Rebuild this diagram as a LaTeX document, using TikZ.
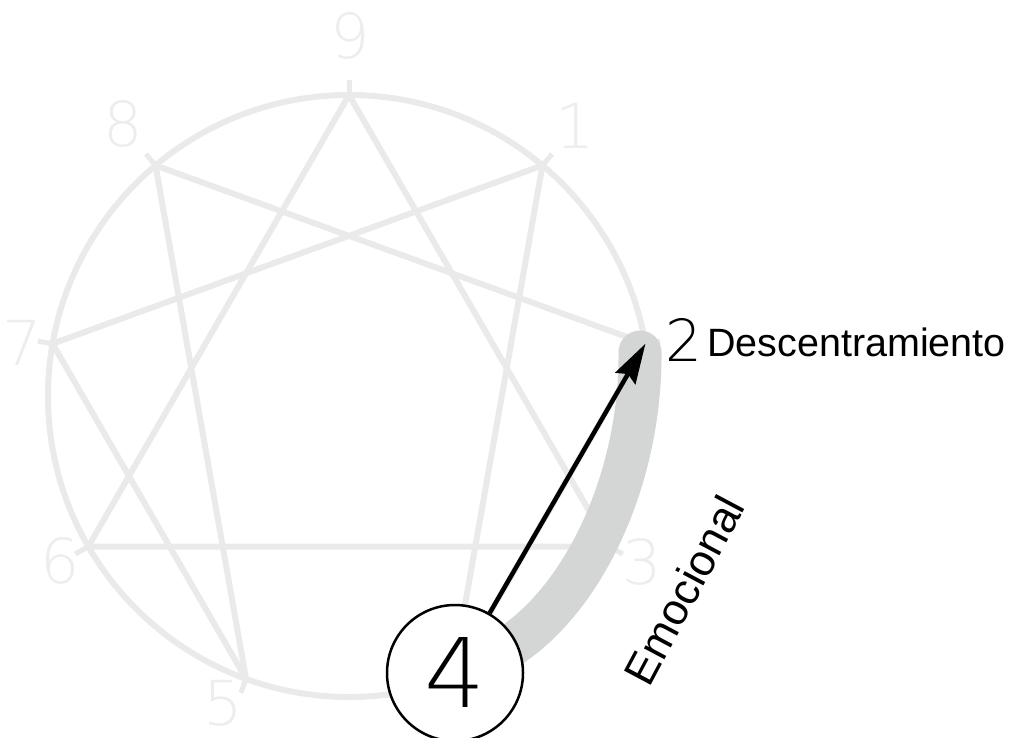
\documentclass[tikz,border=0pt]{standalone}
\usepackage{fontspec}
\usetikzlibrary{arrows.meta}
\setmainfont{Liberation Sans}
\newfontfamily\thindigits{DejaVu Sans ExtraLight}
\definecolor{ennea}{HTML}{EAEAEA}
\definecolor{enneanum}{HTML}{EDEDED}
\definecolor{bandgray}{HTML}{D4D6D6}

\begin{document}
\begin{tikzpicture}[x=1pt, y=-1pt,
        ln/.style={draw=ennea, line width=6pt, line join=round},
        num/.style={text=enneanum, font=\thindigits\fontsize{62}{62}\selectfont, inner sep=0pt},
        band/.style={draw=bandgray, line width=43pt, line cap=round},
        arr/.style={-{Stealth[length=40pt, width=23pt, inset=5pt]}, line width=4.5pt}]
            \useasboundingbox (0,0) rectangle (1009,738);
            % y grows downward, so angles are negated
            \coordinate (c) at (349,396);
            \foreach \n/\a in {9/90,1/50,2/10,3/-30,4/-70,5/-110,6/-150,7/170,8/130}
              {\path (c) ++(-\a:301) coordinate (p\n);
               \draw[ln, line width=5pt] (p\n) -- ++(-\a:15);}
            % outline
            \draw[ln] (c) circle (301);
            \draw[ln] (p9) -- (p3) -- (p6) -- cycle;
            \draw[ln] (p1) -- (p4) -- (p2) -- (p8) -- (p5) -- (p7) -- cycle;
            \node[num] (l9) at (350,36) {9};
            \node[num] (l8) at (123,124) {8};
            \node[num] (l1) at (575,126) {1};
            \node[num] (l7) at (22,343) {7};
            \node[num] (l6) at (60,561) {6};
            \node[num] (l5) at (223,703) {5};
            \node[num] (l3) at (642,562) {3};
            % the move 4 -> 2
            \draw[band] (640,352) .. controls (641,485) and (578,612) .. (495,655);
            \node[draw, circle, fill=white, line width=2.5pt, minimum size=136pt,
                  inner sep=0pt, font=\thindigits\fontsize{96}{96}\selectfont] (n4) at (455,673) {4};
            \draw[arr] (n4) -- (p2);
            \node[font=\thindigits\fontsize{58}{58}\selectfont, inner sep=0pt] (l2) at (684,340) {2};
            \node[anchor=base west, inner sep=0pt, font=\fontsize{39.5}{39.5}\selectfont] (lab2) at (707,356) {Descentramiento};
            \node[rotate=62, inner sep=0pt, font=\fontsize{44}{44}\selectfont] (emo) at (684,590) {Emocional};
        \end{tikzpicture}
\end{document}
